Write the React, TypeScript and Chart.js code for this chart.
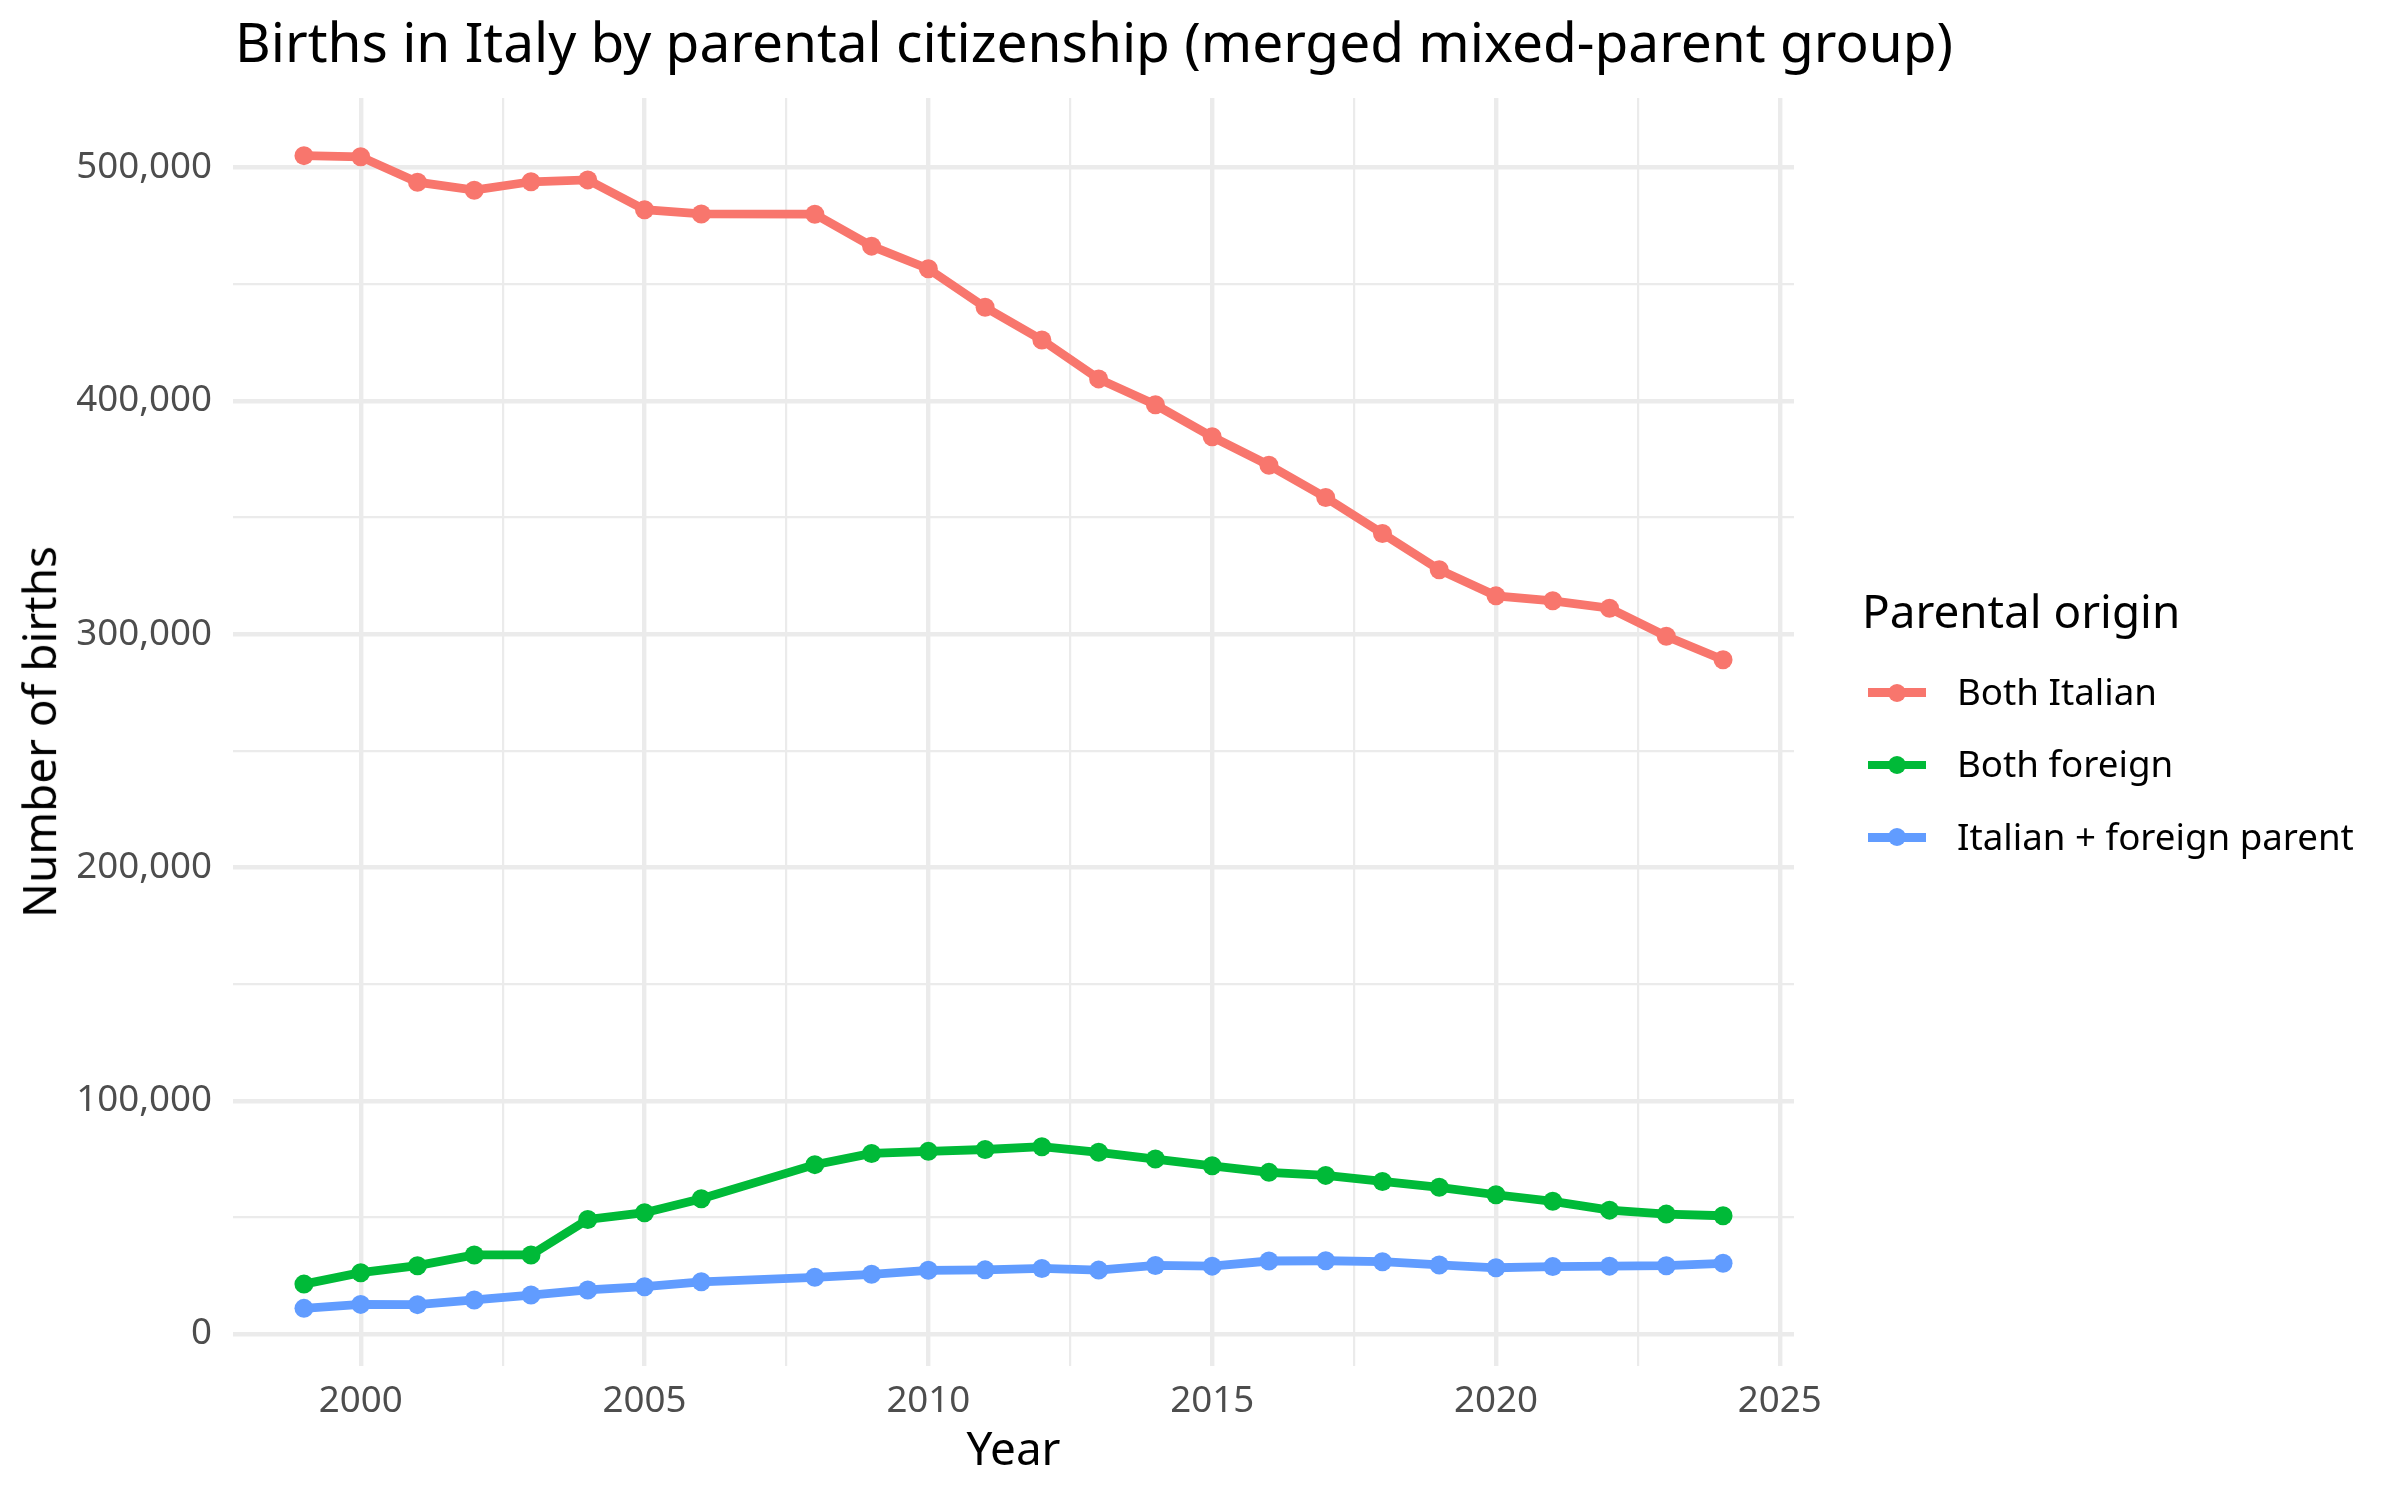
import React, { useEffect, useRef } from "react";
import { Chart, registerables } from "chart.js";

Chart.register(...registerables);

const years = [1999, 2000, 2001, 2002, 2003, 2004, 2005, 2006, 2008, 2009, 2010, 2011, 2012, 2013, 2014, 2015, 2016, 2017, 2018, 2019, 2020, 2021, 2022, 2023, 2024];
const bothItalian = [505100, 504600, 493700, 490300, 493900, 494700, 481900, 480100, 480000, 466300, 456600, 440100, 426100, 409400, 398300, 384600, 372400, 358600, 343100, 327600, 316400, 314300, 311100, 299100, 289000];
const bothForeign = [21400, 26300, 29300, 33900, 33900, 49100, 52000, 58000, 72600, 77400, 78300, 79100, 80300, 77900, 75000, 72100, 69300, 68000, 65400, 62900, 59700, 56900, 53100, 51400, 50700];
const mixedParents = [11000, 12700, 12600, 14600, 16700, 18900, 20300, 22400, 24300, 25600, 27300, 27500, 28100, 27400, 29400, 29100, 31300, 31400, 31000, 29600, 28400, 28900, 29100, 29300, 30300];

const seriesNames = ["Both Italian", "Both foreign", "Italian + foreign parent"];
const seriesColors = ["#F8766D", "#00BA38", "#619CFF"];
const seriesValues = [bothItalian, bothForeign, mixedParents];

const xGridValues = [2000, 2002.5, 2005, 2007.5, 2010, 2012.5, 2015, 2017.5, 2020, 2022.5, 2025];
const yGridValues = [0, 50000, 100000, 150000, 200000, 250000, 300000, 350000, 400000, 450000, 500000];

const titleText = "Births in Italy by parental citizenship (merged mixed-parent group)";
const xTitle = "Year";
const yTitle = "Number of births";
const legendTitle = "Parental origin";

const FONT = "'Noto Sans', 'Open Sans', sans-serif";

export default function App() {
  const canvasRef = useRef<HTMLCanvasElement | null>(null);

  useEffect(() => {
    document.body.style.margin = "0";
    document.body.style.overflow = "hidden";
    const canvas = canvasRef.current;
    if (!canvas) return;

    const allVals = seriesValues.flat();
    const yMinD = Math.min(...allVals);
    const yMaxD = Math.max(...allVals);
    const yPad = (yMaxD - yMinD) * 0.05;
    const xMinD = Math.min(...years);
    const xMaxD = Math.max(...years);
    const xPad = (xMaxD - xMinD) * 0.05;

    const chart = new Chart(canvas, {
      type: "line",
      data: {
        datasets: seriesNames.map((name, i) => ({
          label: name,
          data: years.map((yr, j) => ({ x: yr, y: seriesValues[i][j] })),
          borderColor: seriesColors[i],
          backgroundColor: seriesColors[i],
          pointBackgroundColor: seriesColors[i],
          pointBorderWidth: 0,
          pointRadius: 9.5,
          borderWidth: 8.8,
          tension: 0,
          fill: false,
        })),
      },
      options: {
        animation: false,
        responsive: false,
        devicePixelRatio: 1,
        layout: { padding: { left: 0, top: 98, right: 606, bottom: 0 } },
        plugins: {
          legend: { display: false },
          title: { display: false },
          tooltip: { enabled: false },
        },
        scales: {
          x: {
            type: "linear",
            min: xMinD - xPad,
            max: xMaxD + xPad,
            border: { display: false },
            afterBuildTicks: (scale: any) => {
              scale.ticks = xGridValues.map((v) => ({ value: v }));
            },
            afterFit: (scale: any) => {
              scale.height = 134;
            },
            grid: {
              color: "#EBEBEB",
              drawTicks: false,
              lineWidth: (ctx: any) => (ctx.tick && ctx.tick.value % 5 === 0 ? 4.4 : 2.2),
            },
            ticks: {
              padding: 14,
              color: "#4D4D4D",
              font: { family: FONT, size: 36.7, lineHeight: 1.2 },
              maxRotation: 0,
              autoSkip: false,
              callback: (v: any) => (Number(v) % 5 === 0 ? String(v) : ""),
            },
          },
          y: {
            type: "linear",
            min: yMinD - yPad,
            max: yMaxD + yPad,
            border: { display: false },
            afterBuildTicks: (scale: any) => {
              scale.ticks = yGridValues.map((v) => ({ value: v }));
            },
            afterFit: (scale: any) => {
              scale.width = 233;
            },
            grid: {
              color: "#EBEBEB",
              drawTicks: false,
              lineWidth: (ctx: any) => (ctx.tick && ctx.tick.value % 100000 === 0 ? 4.4 : 2.2),
            },
            ticks: {
              padding: 21,
              color: "#4D4D4D",
              font: { family: FONT, size: 36.7, lineHeight: 1.2 },
              autoSkip: false,
              callback: (v: any) => (Number(v) % 100000 === 0 ? Number(v).toLocaleString("en-US") : ""),
            },
          },
        },
      },
    });

    return () => chart.destroy();
  }, []);

  return (
    <div style={{ position: "absolute", left: 0, top: 0, width: 2400, height: 1500, background: "#fff", fontFamily: FONT, overflow: "hidden" }}>
      <canvas ref={canvasRef} width={2400} height={1500} style={{ position: "absolute", left: 0, top: 0, width: 2400, height: 1500 }} />
      <div style={{ position: "absolute", left: 235, top: 13, fontSize: 55, lineHeight: 1, color: "#000", whiteSpace: "nowrap" }}>{titleText}</div>
      <div style={{ position: "absolute", left: 1013.5 - 300, width: 600, top: 1425, fontSize: 45.8, lineHeight: 1, color: "#000", textAlign: "center" }}>{xTitle}</div>
      <div
        style={{
          position: "absolute",
          left: 39 - 400,
          top: 732 - 22.9,
          width: 800,
          height: 45.8,
          fontSize: 45.8,
          lineHeight: 1,
          color: "#000",
          textAlign: "center",
          transform: "rotate(-90deg)",
          transformOrigin: "50% 50%",
          whiteSpace: "nowrap",
        }}
      >
        {yTitle}
      </div>
      <div style={{ position: "absolute", left: 1862, top: 588, fontSize: 45.8, lineHeight: 1, color: "#000", whiteSpace: "nowrap" }}>{legendTitle}</div>
      {seriesNames.map((name, i) => {
        const cy = 692.7 + i * 72.3;
        return (
          <div key={name}>
            <div style={{ position: "absolute", left: 1868, top: cy - 4.4, width: 57.5, height: 8.8, background: seriesColors[i] }} />
            <div style={{ position: "absolute", left: 1896.75 - 9, top: cy - 9, width: 18, height: 18, borderRadius: "50%", background: seriesColors[i] }} />
            <div style={{ position: "absolute", left: 1957, top: cy - 19.6, fontSize: 36.7, lineHeight: 1, color: "#000", whiteSpace: "nowrap" }}>{name}</div>
          </div>
        );
      })}
    </div>
  );
}
